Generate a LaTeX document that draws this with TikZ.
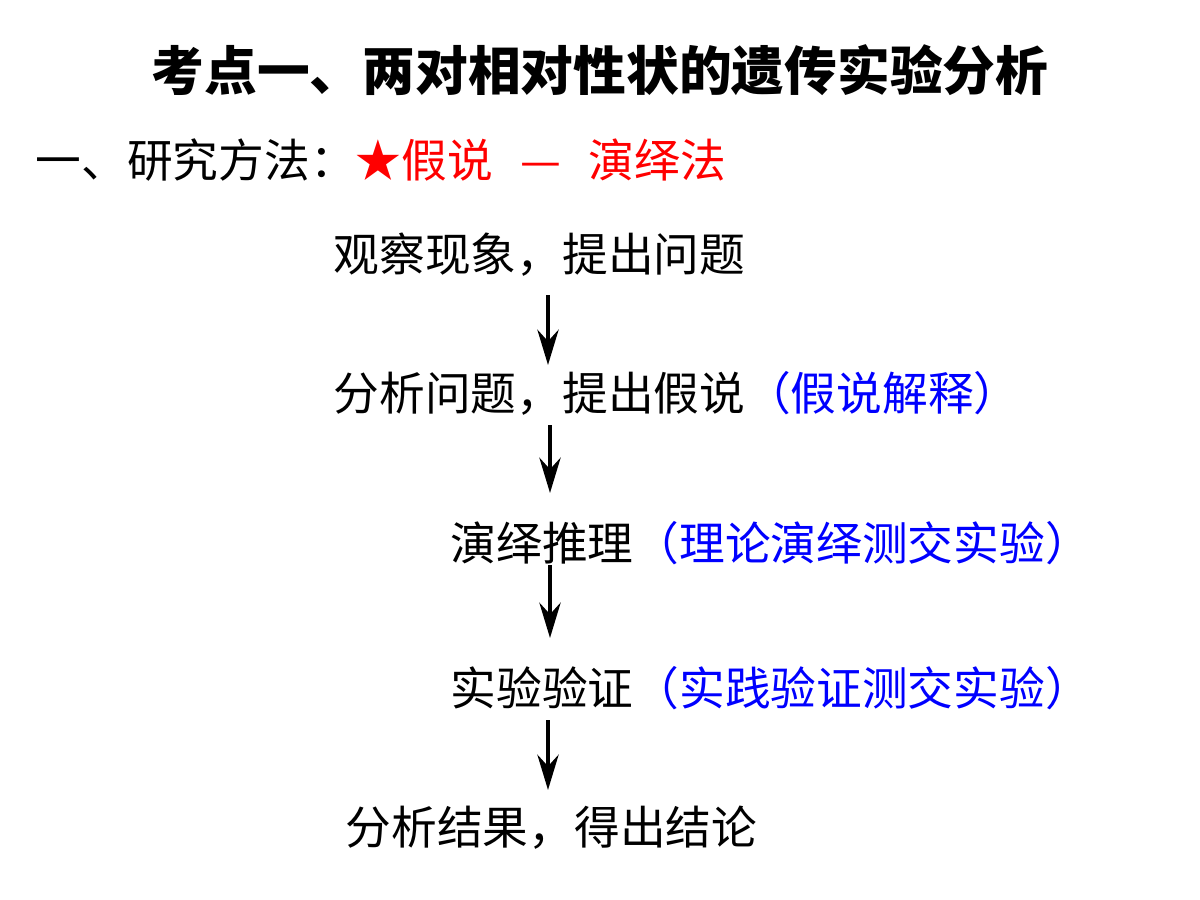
\documentclass[tikz,border=0pt]{standalone}
\usepackage{fontspec}
\setmainfont{Noto Sans CJK SC}
\usetikzlibrary{arrows.meta}
\begin{document}
\begin{tikzpicture}[x=0.01cm,y=-0.01cm,
  t/.style={anchor=west,inner sep=0pt,font=\fontsize{13pt}{15pt}\selectfont},
  arr/.style={-{Stealth[length=10pt,width=6pt]},line width=1.3pt}]
\useasboundingbox (0,0) rectangle (1200,900);
\node[anchor=center,inner sep=0pt,font=\fontsize{15pt}{18pt}\selectfont\bfseries] (title) at (600,70) {考点一、两对相对性状的遗传实验分析};
\node[t] (m) at (35,160) {一、研究方法：\textcolor{red}{★假说\hspace{0.6em}—\hspace{0.6em}演绎法}};
\node[t] (a) at (333,255) {观察现象，提出问题};
\node[t] (b) at (333,393) {分析问题，提出假说\textcolor{blue}{（假说解释）}};
\node[t] (c) at (450,543) {演绎推理\textcolor{blue}{（理论演绎测交实验）}};
\node[t] (d) at (450,688) {实验验证\textcolor{blue}{（实践验证测交实验）}};
\node[t] (e) at (345,828) {分析结果，得出结论};
\coordinate (a1) at (548,295); \coordinate (a2) at (548,365);
\coordinate (b1) at (550,425); \coordinate (b2) at (550,493);
\coordinate (c1) at (550,565); \coordinate (c2) at (550,638);
\coordinate (d1) at (548,720); \coordinate (d2) at (548,790);
\draw[arr] (a1)--(a2); \draw[arr] (b1)--(b2); \draw[arr] (c1)--(c2); \draw[arr] (d1)--(d2);
\end{tikzpicture}
\end{document}
